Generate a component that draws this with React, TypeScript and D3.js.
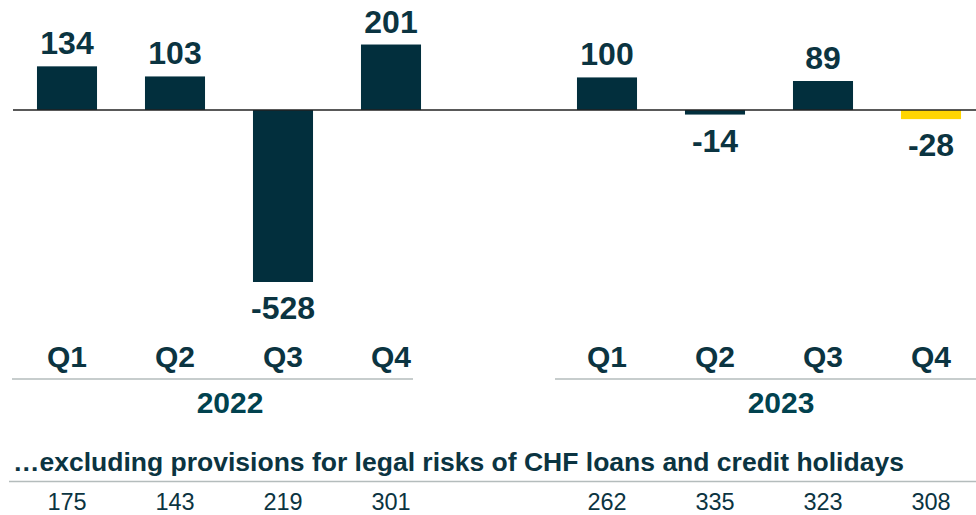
import React from "react";
import * as d3 from "d3";

const years = ["2022", "2023"];
const quarters = ["Q1", "Q2", "Q3", "Q4"];
const values2022 = [134, 103, -528, 201];
const values2023 = [100, -14, 89, -28];
const excl2022 = [175, 143, 219, 301];
const excl2023 = [262, 335, 323, 308];
const subtitle = "…excluding provisions for legal risks of CHF loans and credit holidays";

const DARK = "#022f3d";
const TEXT = "#0b3441";
const YEAR = "#01424f";
const YELLOW = "#ffd500";
const GRID = "#b4bcbc";
const FONT = "'Liberation Sans', Arial, sans-serif";

type Row = { key: string; year: string; q: string; value: number; excl: number; highlight: boolean };

const rows: Row[] = [];
quarters.forEach((q, i) =>
  rows.push({ key: "2022" + q, year: "2022", q, value: values2022[i], excl: excl2022[i], highlight: false })
);
quarters.forEach((q, i) =>
  rows.push({ key: "2023" + q, year: "2023", q, value: values2023[i], excl: excl2023[i], highlight: i === 3 })
);

// one empty slot between the two years
const slots = [...rows.slice(0, 4).map((r) => r.key), "gap", ...rows.slice(4).map((r) => r.key)];

export default function App() {
  const width = 976;
  const height = 515;

  const x = d3.scaleBand().domain(slots).range([13, 985]).paddingInner(0.444).paddingOuter(0.222);
  const y = d3.scaleLinear().domain([0, -528]).range([110, 282]);
  const cx = (k: string) => (x(k) as number) + x.bandwidth() / 2;

  const yearSpans = [
    { year: years[0], x1: 12, x2: 413, label: 230 },
    { year: years[1], x1: 555, x2: 976, label: 781 },
  ];

  return (
    <svg
      width={width}
      height={height}
      style={{ position: "absolute", left: 0, top: 0, background: "#fff" }}
      fontFamily={FONT}
    >
      {rows.map((r) => (
        <rect
          key={r.key}
          x={x(r.key)}
          width={x.bandwidth()}
          y={Math.min(y(r.value), y(0))}
          height={Math.abs(y(r.value) - y(0))}
          fill={r.highlight ? YELLOW : DARK}
        />
      ))}
      <line x1={13} x2={976} y1={y(0)} y2={y(0)} stroke="#222" strokeWidth={1.5} />

      {rows.map((r) => (
        <text
          key={"v" + r.key}
          x={cx(r.key)}
          y={r.value >= 0 ? y(r.value) - 12 : y(r.value) + 37}
          textAnchor="middle"
          fontSize={32}
          fontWeight="bold"
          fill={TEXT}
        >
          {r.value}
        </text>
      ))}

      {rows.map((r) => (
        <text
          key={"q" + r.key}
          x={cx(r.key)}
          y={367}
          textAnchor="middle"
          fontSize={30}
          fontWeight="bold"
          fill={TEXT}
        >
          {r.q}
        </text>
      ))}

      {yearSpans.map((s) => (
        <g key={s.year}>
          <line x1={s.x1} x2={s.x2} y1={379} y2={379} stroke={GRID} strokeWidth={1.5} />
          <text x={s.label} y={413} textAnchor="middle" fontSize={30} fontWeight="bold" fill={YEAR}>
            {s.year}
          </text>
        </g>
      ))}

      <text x={13} y={471} fontSize={26.5} fontWeight="bold" fill={TEXT}>
        {subtitle}
      </text>
      <line x1={9} x2={976} y1={481.5} y2={481.5} stroke={GRID} strokeWidth={1.5} />

      {rows.map((r) => (
        <text key={"e" + r.key} x={cx(r.key)} y={510} textAnchor="middle" fontSize={23.5} fill={TEXT}>
          {r.excl}
        </text>
      ))}
    </svg>
  );
}
